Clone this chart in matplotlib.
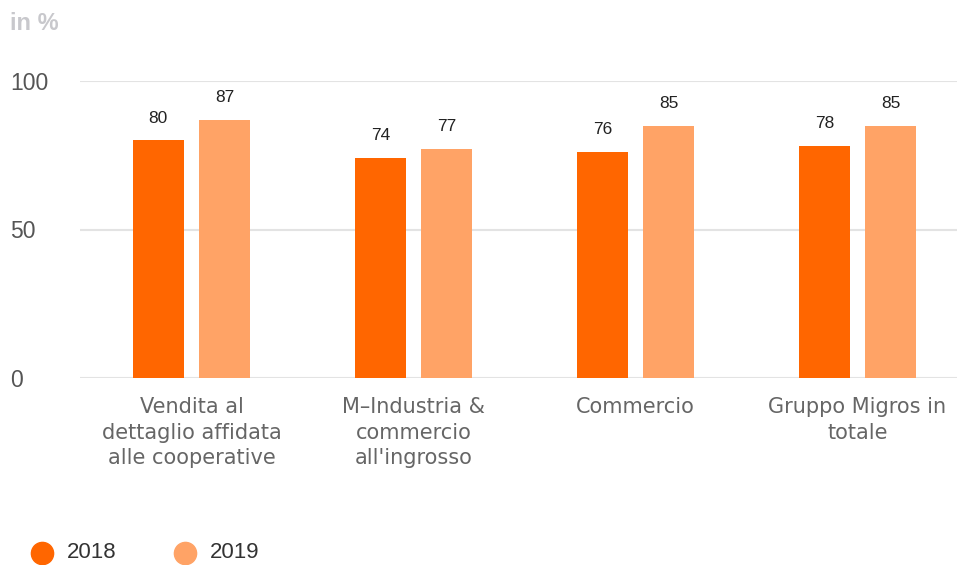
import numpy as np
import matplotlib.pyplot as plt
from matplotlib.lines import Line2D

categories = ["Vendita al\ndettaglio affidata\nalle cooperative",
              "M–Industria &\ncommercio\nall'ingrosso",
              "Commercio",
              "Gruppo Migros in\ntotale"]
values_2018 = [80, 74, 76, 78]
values_2019 = [87, 77, 85, 85]
series_names = ["2018", "2019"]
colors = ["#ff6600", "#ffa366"]

plt.rcParams['font.family'] = ['Liberation Sans', 'DejaVu Sans']

fig = plt.figure(figsize=(9.57, 5.65), dpi=100)
# axes placed in pixel terms: left 80, right 957, bottom y=378, top (100) y=81
ax = fig.add_axes([80 / 957, 1 - 378 / 565, 877 / 957, 297 / 565])

x = np.arange(len(categories))
width = 0.23
offset = 0.149

for vals, dx, col in [(values_2018, -offset, colors[0]), (values_2019, offset, colors[1])]:
    bars = ax.bar(x + dx, vals, width, color=col, zorder=3)
    for b, v in zip(bars, vals):
        ax.text(b.get_x() + b.get_width() / 2, v + 5, f"{v}", ha='center', va='bottom',
                fontsize=12.5, color='#222222', zorder=4)

ax.set_ylim(0, 100)
ax.set_xlim(-0.502, 3.448)
ax.set_yticks([0, 50, 100])
ax.set_xticks(x)
ax.set_xticklabels(categories, fontsize=15, color='#666666', linespacing=1.32,
                   family='DejaVu Sans')
ax.tick_params(axis='x', length=0, pad=14)
ax.tick_params(axis='y', length=0, labelsize=16.5, labelcolor='#555555', pad=70 * 0.72)
for lab in ax.get_yticklabels():
    lab.set_horizontalalignment('left')
ax.grid(axis='y', color='#e3e3e3', linewidth=1.5, zorder=0)
for s in ax.spines.values():
    s.set_visible(False)

fig.text(10 / 957, 1 - 23 / 565, "in %", fontsize=17, fontweight='bold',
         color='#c8c8cc', va='center', ha='left')

# legend
for i, name in enumerate(series_names):
    lx = (42 + i * 143) / 957
    ly = 1 - 553 / 565
    fig.add_artist(Line2D([lx], [ly], marker='o', markersize=16, color=colors[i],
                          linestyle='none', transform=fig.transFigure))
    fig.text((67 + i * 143) / 957, ly, name, fontsize=16,
             color='#333333', va='center', ha='left')

fig.savefig("out.png", dpi=100)
